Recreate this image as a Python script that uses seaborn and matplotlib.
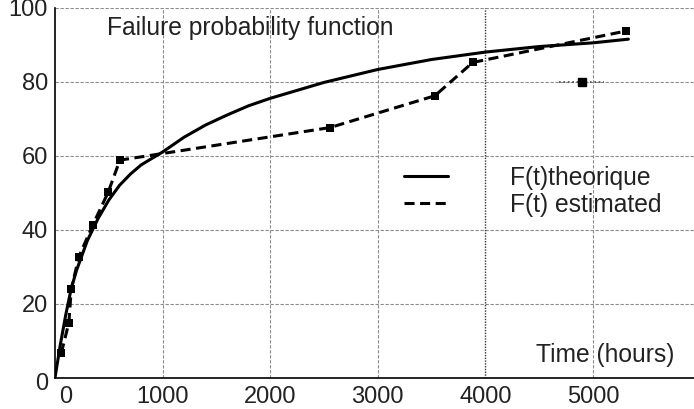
import seaborn as sns
import matplotlib.pyplot as plt
import matplotlib.transforms as mtransforms
import pandas as pd
from matplotlib.lines import Line2D

# theoretical failure probability F(t)
t_theo = [0, 50, 100, 150, 200, 300, 400, 500, 600, 700, 800, 1000, 1200,
          1400, 1600, 1800, 2000, 2500, 3000, 3500, 4000, 4500, 5000, 5330]
F_theo = [0, 9, 17, 24, 29, 37, 43, 48, 52, 55, 57.5, 61, 65,
          68.3, 71, 73.5, 75.5, 79.8, 83.3, 86, 88, 89.5, 90.5, 91.5]

# estimated F(t) points
t_est = [58, 129, 151, 222, 350, 494, 603, 2556, 3531, 3883, 5307]
F_est = [6.6, 14.9, 23.9, 32.7, 41.2, 50.1, 58.8, 67.6, 76.2, 85.2, 93.7]

# stray point with a dotted horizontal bar
t_stray = [4895]
F_stray = [80]
stray_xerr = [210]

x_ticks = [0, 1000, 2000, 3000, 4000, 5000]
y_ticks = [0, 20, 40, 60, 80, 100]

df_theo = pd.DataFrame({'t': t_theo, 'F': F_theo})
df_est = pd.DataFrame({'t': t_est, 'F': F_est})

sns.set_style("white")
plt.rcParams['font.family'] = ['Liberation Sans', 'DejaVu Sans']

fig = plt.figure(figsize=(6.94, 4.09), dpi=100)
ax = fig.add_axes([55 / 694, 31.3 / 409, 639 / 694, 370 / 409])

grid_kw = dict(color='#8c8c8c', lw=0.8, ls=(0, (3, 1.5)), zorder=0)
for y in y_ticks[1:]:
    ax.axhline(y, **grid_kw)
for x in x_ticks[1:]:
    if x == 4000:
        ax.axvline(x, color='#333333', lw=1.0, ls=(0, (1, 1)), zorder=0)
    else:
        ax.axvline(x, **grid_kw)

est_ls = (0, (3.3, 1.8))
sns.lineplot(data=df_theo, x='t', y='F', ax=ax, color='black', lw=2.2,
             estimator=None)
sns.lineplot(data=df_est, x='t', y='F', ax=ax, color='black', lw=2.2,
             estimator=None, marker='s', markersize=6, markeredgewidth=0,
             linestyle=est_ls)

eb = ax.errorbar(t_stray, F_stray, xerr=stray_xerr, fmt='s', color='black',
                 markersize=6, ecolor='#444444', elinewidth=1.2, capsize=0)
eb[2][0].set_linestyle(':')

ax.set_xlim(0, 5940)
ax.set_ylim(0, 100)
ax.set_xticks(x_ticks)
ax.set_yticks(y_ticks)
ax.set_xlabel('')
ax.set_ylabel('')
ax.tick_params(axis='x', direction='in', length=6, width=1, pad=6,
               labelsize=17, colors='#222222')
ax.tick_params(axis='y', direction='in', length=0, pad=5,
               labelsize=17, colors='#222222')
for s in ['top', 'right']:
    ax.spines[s].set_visible(False)
for s in ['left', 'bottom']:
    ax.spines[s].set_color('black')
    ax.spines[s].set_linewidth(1.2)

# nudge the "0" x label to the right, as in the original
lbl0 = ax.get_xticklabels()[0]
lbl0.set_transform(lbl0.get_transform() +
                   mtransforms.ScaledTranslation(0.11, 0, fig.dpi_scale_trans))
ylbl0 = ax.get_yticklabels()[0]
ylbl0.set_transform(ylbl0.get_transform() +
                    mtransforms.ScaledTranslation(0, -0.04, fig.dpi_scale_trans))

ax.text(0.081, 0.945, 'Failure probability function', transform=ax.transAxes,
        fontsize=17.7, color='#222222', va='center', ha='left')
ax.text(0.969, 0.061, 'Time (hours)', transform=ax.transAxes,
        fontsize=17.7, color='#222222', va='center', ha='right')

handles = [Line2D([], [], color='black', lw=2.2),
           Line2D([], [], color='black', lw=2.2, linestyle=est_ls)]
ax.legend(handles, ['F(t)theorique', 'F(t) estimated'],
          loc='upper left', bbox_to_anchor=(0.546, 0.572), frameon=False,
          fontsize=17.7, handlelength=1.8, handletextpad=2.5,
          labelspacing=0.12, borderpad=0, borderaxespad=0,
          labelcolor='#222222')

fig.savefig('out.png', dpi=100)
